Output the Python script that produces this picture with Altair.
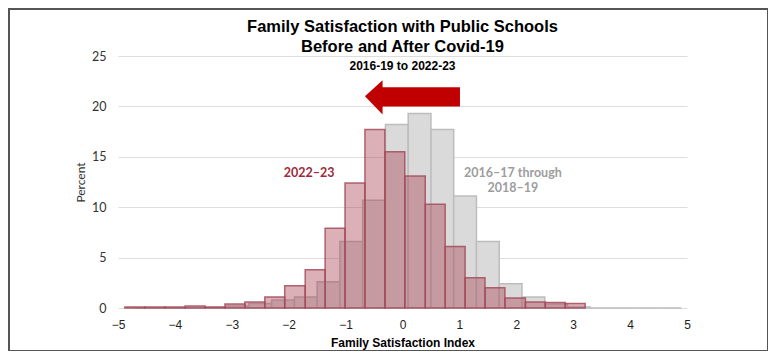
import altair as alt
import pandas as pd

# ---- data ----
red_edges = [-4.88, -4.53, -4.17, -3.82, -3.47, -3.12, -2.77, -2.42, -2.07, -1.71, -1.36, -1.01,
             -0.66, -0.31, 0.04, 0.40, 0.75, 1.10, 1.45, 1.80, 2.16, 2.51, 2.86, 3.21]
red_pct = [0.1, 0.1, 0.1, 0.2, 0.1, 0.4, 0.6, 1.1, 2.2, 3.8, 7.9, 12.4,
           17.7, 15.5, 13.1, 10.3, 6.1, 3.0, 2.0, 1.0, 0.6, 0.55, 0.45]

gray_edges = [-4.7, -4.3, -3.9, -3.5, -3.1, -2.7, -2.3, -1.9, -1.5, -1.1, -0.7, -0.3, 0.1,
              0.5, 0.9, 1.3, 1.7, 2.1, 2.5, 2.9, 3.3, 3.7, 4.1, 4.5, 4.9]
gray_pct = [0.0, 0.0, 0.0, 0.05, 0.2, 0.45, 0.8, 1.1, 2.6, 6.6, 10.7, 18.2,
            19.3, 17.7, 11.1, 6.6, 2.4, 1.1, 0.4, 0.1, 0.0, 0.0, 0.0, 0.0]

x_ticks = [-5, -4, -3, -2, -1, 0, 1, 2, 3, 4, 5]
y_ticks = [0, 5, 10, 15, 20, 25]

# arrow annotation (data units)
arrow_body_x = [-0.36, 1.01]
arrow_body_y = [20.0, 21.9]
arrow_head_x = [-0.66, -0.35]
arrow_head_lo = [21.0, 19.2]
arrow_head_hi = [21.0, 22.6]

labels_text = ["2022–23", "2016–17 through", "2018–19"]
labels_x = [-1.64, 1.94, 1.94]
labels_y = [13.4, 13.4, 11.9]
labels_grp = ["red", "gray", "gray"]

# ---- tables ----
red_df = pd.DataFrame({"x": red_edges[:-1], "x2": red_edges[1:], "pct": red_pct})
gray_df = pd.DataFrame({"x": gray_edges[:-1], "x2": gray_edges[1:], "pct": gray_pct})
body_df = pd.DataFrame({"x": [arrow_body_x[0]], "x2": [arrow_body_x[1]],
                        "y": [arrow_body_y[0]], "y2": [arrow_body_y[1]]})
head_df = pd.DataFrame({"x": arrow_head_x, "y": arrow_head_lo, "y2": arrow_head_hi})
lab_df = pd.DataFrame({"t": labels_text, "x": labels_x, "y": labels_y, "g": labels_grp})

W, H = 569, 252

xs = alt.Scale(domain=[-5, 5], nice=False, zero=False)
ys = alt.Scale(domain=[0, 25], nice=False)

xaxis = alt.Axis(values=x_ticks, format="d", title="Family Satisfaction Index", grid=False,
                 domain=False, ticks=False, labelFont="Liberation Sans", labelFontSize=12,
                 labelColor="#222222", labelPadding=11, titleFont="Liberation Sans",
                 titleFontSize=12, titleFontWeight="bold", titleColor="#000000", titlePadding=7,
                 labelFlush=False)
yaxis = alt.Axis(values=y_ticks, title="Percent", grid=True, gridColor="#dddddd", domain=False,
                 ticks=False, labelFont="Lato", labelFontSize=12.5, labelColor="#333333",
                 labelPadding=12, titleFont="Lato", titleFontSize=12, titleFontWeight="normal",
                 titleColor="#333333", titlePadding=4)

gray = alt.Chart(gray_df).mark_rect(fill="#dadada", stroke="#bdbdbd", strokeWidth=1.5).encode(
    x=alt.X("x:Q", scale=xs, axis=xaxis), x2="x2:Q",
    y=alt.Y("pct:Q", scale=ys, axis=yaxis), y2=alt.datum(0))

red = alt.Chart(red_df).mark_rect(fill="#a8394c", fillOpacity=0.40, stroke="#a34b5a",
                                  strokeOpacity=0.85, strokeWidth=1.5).encode(
    x=alt.X("x:Q", scale=xs), x2="x2:Q",
    y=alt.Y("pct:Q", scale=ys), y2=alt.datum(0))

body = alt.Chart(body_df).mark_rect(color="#c00000").encode(
    x=alt.X("x:Q", scale=xs), x2="x2:Q", y=alt.Y("y:Q", scale=ys), y2="y2:Q")
head = alt.Chart(head_df).mark_area(color="#c00000", opacity=1).encode(
    x=alt.X("x:Q", scale=xs), y=alt.Y("y:Q", scale=ys), y2="y2:Q")

labels = alt.Chart(lab_df).mark_text(font="Lato", fontSize=12.5, fontWeight="bold").encode(
    x=alt.X("x:Q", scale=xs), y=alt.Y("y:Q", scale=ys),
    text="t:N",
    color=alt.Color("g:N", scale=alt.Scale(domain=["red", "gray"], range=["#9e2a3b", "#9d9d9d"]),
                    legend=None))

frame = alt.Chart(pd.DataFrame({"k": [0]})).mark_rect(fill="transparent", stroke="#555555",
                                                     strokeWidth=2).encode(
    x=alt.value(-109), x2=alt.value(650), y=alt.value(-47), y2=alt.value(295))

chart = alt.layer(gray, red, body, head, labels, frame).properties(
    width=W, height=H,
    title=alt.TitleParams(
        text=["Family Satisfaction with Public Schools", "Before and After Covid-19"],
        subtitle="2016-19 to 2022-23",
        font="Liberation Sans", fontSize=16.5, fontWeight="bold", color="#000000",
        subtitleFont="Liberation Sans", subtitleFontSize=12, subtitleFontWeight="bold",
        subtitleColor="#000000", anchor="middle", offset=-64, lineHeight=20,
        subtitlePadding=6),
    autosize=alt.AutoSizeParams(type="none"),
    padding={"left": 110, "top": 48, "right": 81, "bottom": 43},
).configure_view(stroke=None)

chart.save("out.html", embed_options={"renderer": "svg", "actions": False})
